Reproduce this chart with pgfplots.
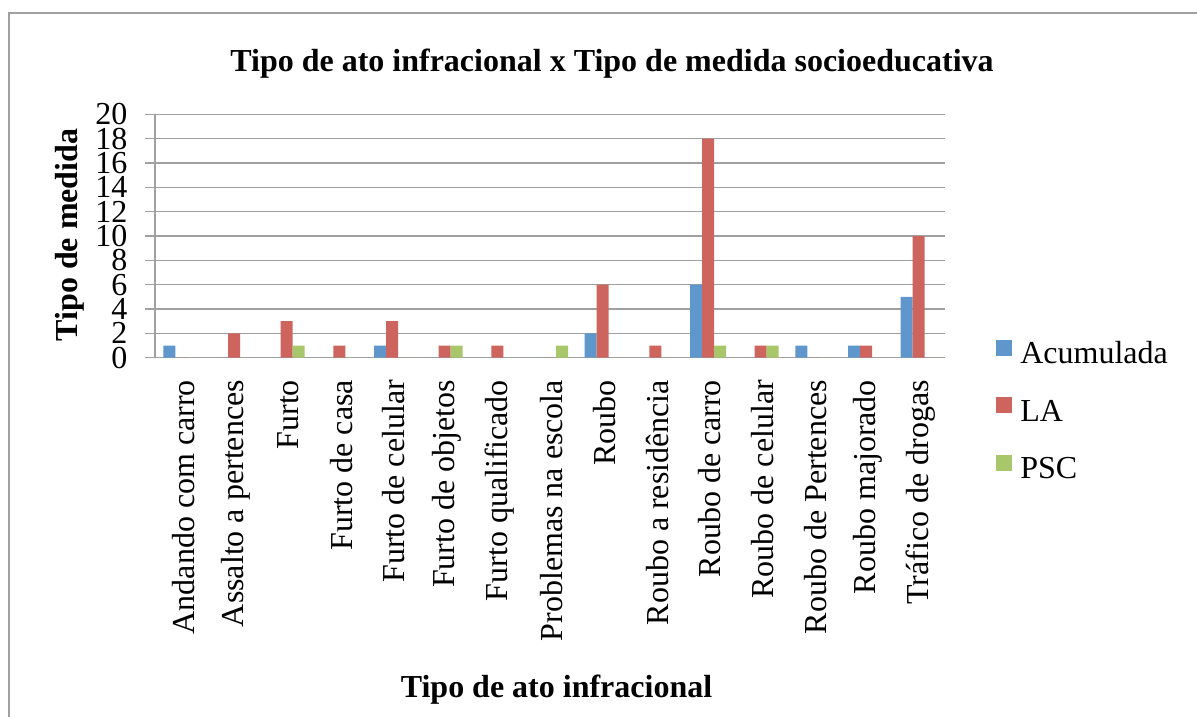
\documentclass[border=0pt]{standalone}
\usepackage{fontspec}
\setmainfont{Liberation Serif}
\usepackage{pgfplots}
\pgfplotsset{compat=1.18}
\definecolor{cAcum}{HTML}{5F96CB}
\definecolor{cLA}{HTML}{CD645E}
\definecolor{cPSC}{HTML}{A8C66A}
\definecolor{gridgray}{HTML}{A0A0A0}
\newcommand{\chartfont}{\fontsize{24}{28}\selectfont}
\begin{document}
\begin{tikzpicture}
\path[use as bounding box] (0,0) rectangle (897.75pt,-537.75pt);
\draw[gridgray,line width=1.5pt] (6.75pt,-537.75pt) -- (6.75pt,-9.75pt) -- (897.75pt,-9.75pt);
\begin{axis}[
  at={(116.25pt,-268.3pt)}, anchor=south west,
  scale only axis,
  width=592.5pt, height=182.55pt,
  ybar, bar width=0.2278,
  xmin=-0.5, xmax=14.5,
  ymin=0, ymax=20,
  ytick={0,2,...,20},
  xtick={0,...,14},
  xticklabels={Andando com carro,Assalto a pertences,Furto,Furto de casa,Furto de celular,Furto de objetos,Furto qualificado,Problemas na escola,Roubo,Roubo a residência,Roubo de carro,Roubo de celular,Roubo de Pertences,Roubo majorado,Tráfico de drogas},
  axis lines*=left,
  axis line style={gridgray,line width=1.1pt},
  ymajorgrids, grid style={gridgray,line width=1.1pt},
  tick align=outside, major tick length=7.5pt,
  ytick style={gridgray,line width=1.1pt},
  xtick style={draw=none},
  tick label style={font=\chartfont},
  /pgf/number format/assume math mode=true,
  yticklabel style={inner sep=0pt, xshift=-13pt},
  xticklabel style={rotate=90, anchor=east, inner sep=0pt, xshift=-9pt, yshift=-1.5pt},
  legend style={draw=none, fill=none, font=\chartfont, inner sep=0pt,
    at={(1.0646,-0.225)}, anchor=west, row sep=20pt,
    nodes={inner sep=0pt, text height=17pt, text depth=5pt},
    /tikz/every odd column/.append style={column sep=6pt}},
  legend cell align=left,
  legend image code/.code={\path[#1,draw=none] (0pt,0pt) rectangle (12pt,12pt);},
]
\addplot[fill=cAcum, draw=none, bar shift=-0.2278] coordinates {(0,1) (1,0) (2,0) (3,0) (4,1) (5,0) (6,0) (7,0) (8,2) (9,0) (10,6) (11,0) (12,1) (13,1) (14,5)};
\addplot[fill=cLA, draw=none, bar shift=0] coordinates {(0,0) (1,2) (2,3) (3,1) (4,3) (5,1) (6,1) (7,0) (8,6) (9,1) (10,18) (11,1) (12,0) (13,1) (14,10)};
\addplot[fill=cPSC, draw=none, bar shift=0.2278] coordinates {(0,0) (1,0) (2,1) (3,0) (4,0) (5,1) (6,0) (7,1) (8,0) (9,0) (10,1) (11,1) (12,0) (13,0) (14,0)};
\legend{Acumulada,LA,PSC}
\end{axis}
\node[font=\bfseries\chartfont] at (459pt,-47.5pt) {Tipo de ato infracional x Tipo de medida socioeducativa};
\node[font=\bfseries\chartfont, rotate=90] at (52.5pt,-176.25pt) {Tipo de medida};
\node[font=\bfseries\chartfont] at (417.4pt,-517.5pt) {Tipo de ato infracional};
\end{tikzpicture}
\end{document}
